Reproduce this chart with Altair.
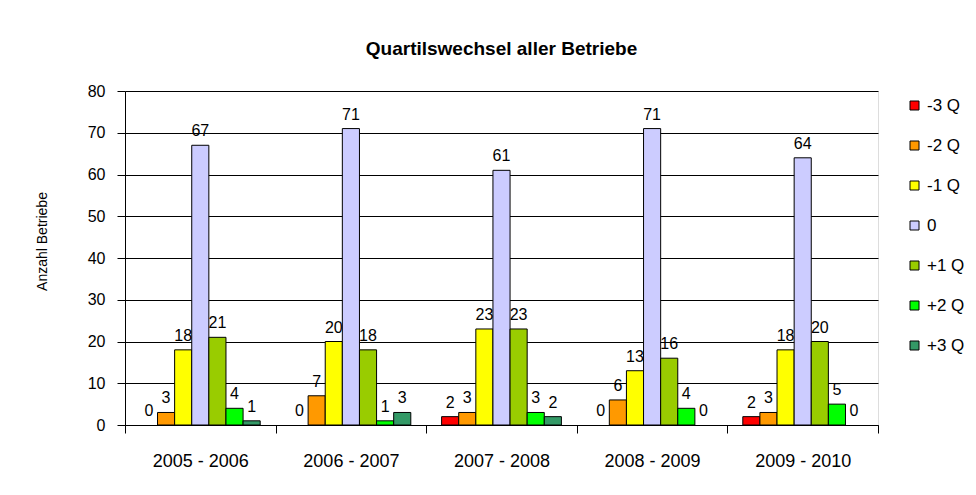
import altair as alt
import pandas as pd

periods = ["2005 - 2006", "2006 - 2007", "2007 - 2008", "2008 - 2009", "2009 - 2010"]
series = ["-3 Q", "-2 Q", "-1 Q", "0", "+1 Q", "+2 Q", "+3 Q"]
colors = ["#FF0000", "#FF9900", "#FFFF00", "#CCCCFF", "#99CC00", "#00FF00", "#339966"]

v_m3 = [0, 0, 2, 0, 2]
v_m2 = [3, 7, 3, 6, 3]
v_m1 = [18, 20, 23, 13, 18]
v_0 = [67, 71, 61, 71, 64]
v_p1 = [21, 18, 23, 16, 20]
v_p2 = [4, 1, 3, 4, 5]
v_p3 = [1, 3, 2, 0, 0]

values = [v_m3, v_m2, v_m1, v_0, v_p1, v_p2, v_p3]
rows = []
for s, vals in zip(series, values):
    for p, v in zip(periods, vals):
        rows.append({"period": p, "series": s, "value": v})
df = pd.DataFrame(rows)

FONT = "Liberation Sans"

x_enc = alt.X(
    "period:N",
    sort=periods,
    scale=alt.Scale(paddingInner=0, paddingOuter=0),
    axis=alt.Axis(
        title=None,
        labelAngle=0,
        tickBand="extent",
        tickSize=8,
        tickColor="black",
        domainColor="black",
        labelFont=FONT,
        labelFontSize=18,
        labelColor="black",
        labelPadding=19,
        labelBaseline="top",
    ),
)
xoff_enc = alt.XOffset(
    "series:N", sort=series, scale=alt.Scale(paddingInner=0, paddingOuter=0.9)
)
y_enc = alt.Y(
    "value:Q",
    scale=alt.Scale(domain=[0, 80], nice=False),
    axis=alt.Axis(
        title="Anzahl Betriebe",
        values=list(range(0, 81, 10)),
        tickSize=8,
        tickColor="black",
        domainColor="black",
        gridColor="black",
        gridOpacity=1,
        gridWidth=1,
        labelFont=FONT,
        labelFontSize=16,
        labelColor="black",
        labelPadding=12,
        titleFont=FONT,
        titleFontSize=14,
        titleFontWeight="normal",
        titleColor="black",
        titleX=-83,
        titleY=150,
        titleAngle=-90,
        titleAlign="center",
        titleBaseline="middle",
    ),
)

bars = (
    alt.Chart(df)
    .transform_filter(alt.datum.value > 0)
    .mark_bar(stroke="black", strokeWidth=1)
    .encode(
        x=x_enc,
        xOffset=xoff_enc,
        y=y_enc,
        color=alt.Color(
            "series:N",
            sort=series,
            scale=alt.Scale(domain=series, range=colors),
            legend=alt.Legend(
                title=None,
                orient="none",
                legendX=781,
                legendY=6,
                symbolType="square",
                symbolSize=81,
                symbolStrokeColor="black",
                symbolStrokeWidth=1,
                labelFont=FONT,
                labelFontSize=17,
                labelColor="black",
                labelOffset=4,
                rowPadding=22,
                padding=0,
            ),
        ),
    )
)

labels = (
    alt.Chart(df)
    .mark_text(font=FONT, fontSize=16, color="black", baseline="bottom", dy=-6)
    .encode(
        x=alt.X("period:N", sort=periods),
        xOffset=alt.XOffset("series:N", sort=series),
        y=alt.Y("value:Q"),
        text=alt.Text("value:Q"),
    )
)

chart = (
    alt.layer(bars, labels)
    .properties(
        width=753,
        height=334,
        padding={"left": 117, "top": 83, "right": 90, "bottom": 62},
        autosize=alt.AutoSizeParams(type="none"),
        title=alt.TitleParams(
            "Quartilswechsel aller Betriebe",
            font=FONT,
            fontSize=19,
            fontWeight="bold",
            color="black",
            anchor="middle",
            offset=5,
            baseline="bottom",
        ),
    )
    .configure_view(stroke=None)
    .configure(background="white")
)

chart.save("out.html", embed_options={"renderer": "svg", "actions": False})
